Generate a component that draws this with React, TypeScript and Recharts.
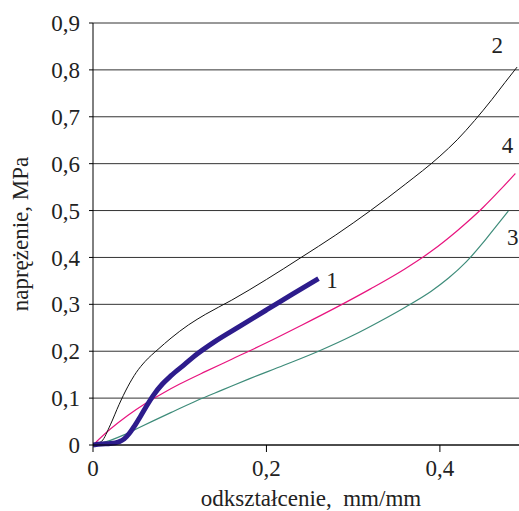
import React from "react";
import { LineChart, Line, XAxis, YAxis, CartesianGrid, ReferenceDot } from "recharts";

const curve1 = [
  [0, 0], [0.01, 0.002], [0.02, 0.003], [0.03, 0.007], [0.036, 0.013], [0.042, 0.025],
  [0.048, 0.041], [0.055, 0.062], [0.063, 0.087], [0.07, 0.107], [0.08, 0.13],
  [0.09, 0.148], [0.105, 0.171], [0.12, 0.194], [0.14, 0.22], [0.17, 0.254],
  [0.2, 0.288], [0.23, 0.322], [0.26, 0.355],
];
const curve2 = [
  [0, 0], [0.01, 0.008], [0.02, 0.043], [0.03, 0.086], [0.04, 0.124], [0.05, 0.155],
  [0.06, 0.178], [0.075, 0.204], [0.09, 0.228], [0.11, 0.256], [0.13, 0.279],
  [0.16, 0.309], [0.2, 0.353], [0.24, 0.4], [0.28, 0.448], [0.32, 0.5],
  [0.36, 0.556], [0.4, 0.616], [0.42, 0.651], [0.44, 0.692], [0.46, 0.737],
  [0.475, 0.773], [0.489, 0.806],
];
const curve3 = [
  [0, 0], [0.02, 0.01], [0.035, 0.021], [0.054, 0.038], [0.07, 0.052], [0.092, 0.071],
  [0.12, 0.095], [0.15, 0.118], [0.18, 0.141], [0.22, 0.17], [0.26, 0.2],
  [0.3, 0.234], [0.33, 0.263], [0.36, 0.294], [0.39, 0.328], [0.41, 0.356],
  [0.43, 0.39], [0.45, 0.432], [0.465, 0.467], [0.479, 0.499],
];
const curve4 = [
  [0, 0], [0.02, 0.034], [0.04, 0.063], [0.06, 0.088], [0.08, 0.11], [0.1, 0.13],
  [0.13, 0.157], [0.16, 0.183], [0.2, 0.218], [0.24, 0.255], [0.28, 0.293],
  [0.32, 0.333], [0.36, 0.376], [0.39, 0.413], [0.42, 0.457], [0.45, 0.507],
  [0.47, 0.545], [0.487, 0.579],
];

const curveLabels = [
  { x: 0.2755, y: 0.352, text: "1" },
  { x: 0.466, y: 0.853, text: "2" },
  { x: 0.484, y: 0.443, text: "3" },
  { x: 0.478, y: 0.64, text: "4" },
];

const xTicks = [0, 0.2, 0.4];
const yTicks = [0, 0.1, 0.2, 0.3, 0.4, 0.5, 0.6, 0.7, 0.8, 0.9];

const toPts = (arr: number[][]) => arr.map(([x, y]) => ({ x, y }));
const fmt = (v: number) => (v === 0 ? "0" : v.toFixed(1).replace(".", ","));

const FONT = "'Liberation Serif', 'Times New Roman', serif";
const FS = 23;
const TXT = "#222";

export default function App() {
  return (
    <div style={{ position: "absolute", left: 0, top: 0 }}>
      <LineChart width={519} height={511} margin={{ top: 23, right: 0, left: 0, bottom: 0 }}>
        <CartesianGrid vertical={false} stroke="#333" strokeWidth={1} />
        <XAxis
          type="number"
          dataKey="x"
          domain={[0, 0.4912]}
          ticks={xTicks}
          tickFormatter={fmt}
          allowDataOverflow
          height={66}
          tickSize={7}
          tickMargin={8}
          stroke="#000"
          tick={{ fill: TXT, fontFamily: FONT, fontSize: FS }}
          label={() => (
            <text x={311} y={506} textAnchor="middle" fill={TXT} fontFamily={FONT} fontSize={FS} style={{ whiteSpace: "pre" }}>
              {"odkształcenie,\u00A0 mm/mm"}
            </text>
          )}
        />
        <YAxis
          type="number"
          dataKey="y"
          domain={[0, 0.9]}
          ticks={yTicks}
          tickFormatter={fmt}
          width={93}
          tickSize={4}
          tickMargin={9}
          stroke="#000"
          tick={{ fill: TXT, fontFamily: FONT, fontSize: FS }}
          label={() => (
            <text
              x={28}
              y={234}
              transform="rotate(-90, 28, 234)"
              textAnchor="middle"
              fill={TXT}
              fontFamily={FONT}
              fontSize={FS}
            >
              naprężenie, MPa
            </text>
          )}
        />
        <Line data={toPts(curve3)} dataKey="y" type="monotone" stroke="#3E8C7A" strokeWidth={1.2} dot={false} isAnimationActive={false} />
        <Line data={toPts(curve4)} dataKey="y" type="monotone" stroke="#E8147F" strokeWidth={1.2} dot={false} isAnimationActive={false} />
        <Line data={toPts(curve2)} dataKey="y" type="monotone" stroke="#111" strokeWidth={1} dot={false} isAnimationActive={false} />
        <Line data={toPts(curve1)} dataKey="y" type="monotone" stroke="#2D1C8C" strokeWidth={5} dot={false} isAnimationActive={false} />
        {curveLabels.map((l) => (
          <ReferenceDot
            key={l.text}
            x={l.x}
            y={l.y}
            r={0}
            ifOverflow="visible"
            label={({ viewBox }: any) => (
              <text
                x={viewBox.x + (viewBox.width || 0) / 2}
                y={viewBox.y + (viewBox.height || 0) / 2}
                dy="0.35em"
                textAnchor="middle"
                fill={TXT}
                fontFamily={FONT}
                fontSize={FS}
              >
                {l.text}
              </text>
            )}
          />
        ))}
      </LineChart>
    </div>
  );
}
